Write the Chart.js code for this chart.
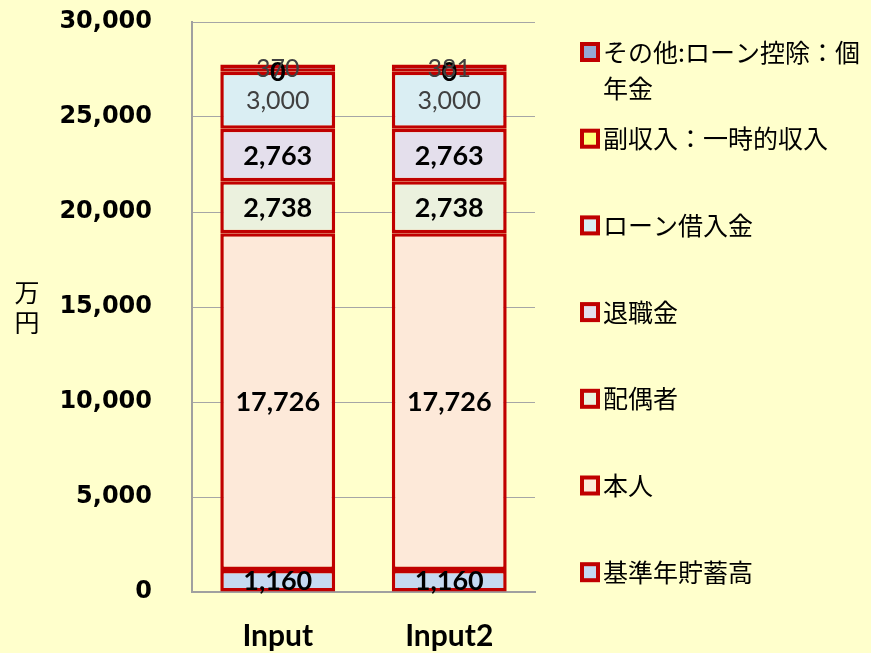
<!DOCTYPE html>
<html>
<head>
<meta charset="utf-8">
<script src="https://cdn.jsdelivr.net/npm/chart.js@4/dist/chart.umd.min.js"></script>
<style>
html,body{margin:0;padding:0;background:#ffffcc;}
#wrap{width:871px;height:653px;position:relative;}
</style>
</head>
<body>
<div id="wrap"><canvas id="c" width="871" height="653"></canvas></div>
<script>
// ---- data ----
const categories = ['Input', 'Input2'];
const seriesNames = ['基準年貯蓄高', '本人', '配偶者', '退職金', 'ローン借入金', '副収入：一時的収入', 'その他:ローン控除：個年金'];
const s基準年貯蓄高 = [1160, 1160];
const s本人 = [17726, 17726];
const s配偶者 = [2738, 2738];
const s退職金 = [2763, 2763];
const sローン借入金 = [3000, 3000];
const s副収入 = [0, 0];
const sその他 = [370, 381];
const yTicks = [0, 5000, 10000, 15000, 20000, 25000, 30000];
const yTitle = ['万', '円'];

const seriesValues = [s基準年貯蓄高, s本人, s配偶者, s退職金, sローン借入金, s副収入, sその他];
const fills = ['#c5d9f1', '#fde9d9', '#ebf1de', '#e4dfec', '#daeef3', '#ffff80', '#95a9d3'];
const labelBold = [true, true, true, true, false, true, false];
const labelColor = ['#000', '#000', '#000', '#000', '#404040', '#000', '#404040'];

const datasets = seriesNames.map((n, i) => ({
  label: n,
  data: seriesValues[i],
  backgroundColor: fills[i],
  borderColor: '#c00000',
  borderWidth: 3.5,
  borderSkipped: false,
  barPercentage: 0.67,
  categoryPercentage: 1.0,
}));

const bgPlugin = {
  id: 'bg',
  beforeDraw(chart) {
    const ctx = chart.ctx;
    ctx.save();
    ctx.fillStyle = '#ffffcc';
    ctx.fillRect(0, 0, chart.width, chart.height);
    ctx.restore();
  }
};

const fmt = v => v.toLocaleString('en-US');

const labelPlugin = {
  id: 'vals',
  afterDatasetsDraw(chart) {
    const ctx = chart.ctx;
    ctx.save();
    ctx.textAlign = 'center';
    ctx.textBaseline = 'middle';
    chart.data.datasets.forEach((ds, i) => {
      const meta = chart.getDatasetMeta(i);
      meta.data.forEach((el, j) => {
        const v = ds.data[j];
        const y = (el.y + el.base) / 2;
        ctx.font = (labelBold[i] ? 'bold 27px Lato' : '25px Lato');
        ctx.fillStyle = labelColor[i];
        ctx.fillText(fmt(v), el.x, y + 1);
      });
    });
    ctx.restore();
  }
};

const legendPlugin = {
  id: 'customLegend',
  afterDraw(chart) {
    const ctx = chart.ctx;
    ctx.save();
    ctx.font = '25px "Noto Sans CJK JP"';
    ctx.textBaseline = 'middle';
    ctx.textAlign = 'left';
    const ds = chart.data.datasets.slice().reverse();
    const boxX = 580, textX = 603, maxW = 868 - textX;
    const y0 = 52, step = 86.7;
    ds.forEach((d, k) => {
      const yc = y0 + k * step;
      ctx.fillStyle = '#c00000';
      ctx.fillRect(boxX, yc - 10, 20, 20);
      ctx.fillStyle = d.backgroundColor;
      ctx.fillRect(boxX + 4, yc - 6, 12, 12);
      const lines = [];
      let cur = '';
      for (const ch of d.label) {
        if (ctx.measureText(cur + ch).width > maxW && cur) { lines.push(cur); cur = ch; }
        else cur += ch;
      }
      lines.push(cur);
      ctx.fillStyle = '#000';
      lines.forEach((ln, li) => ctx.fillText(ln, textX, yc + li * 36));
    });
    ctx.font = '25px "Noto Sans CJK JP"';
    ctx.textAlign = 'center';
    yTitle.forEach((ch, i) => ctx.fillText(ch, 27, 292 + i * 30));
    ctx.restore();
  }
};

new Chart(document.getElementById('c'), {
  type: 'bar',
  data: { labels: categories, datasets },
  options: {
    responsive: false,
    animation: false,
    layout: { padding: { top: 22, right: 336, left: 0, bottom: 0 } },
    plugins: { legend: { display: false }, tooltip: { enabled: false } },
    scales: {
      x: {
        stacked: true,
        grid: { display: false, drawTicks: false },
        border: { display: true, color: '#a0a0a0', width: 2 },
        ticks: { font: { family: 'Lato', weight: 'bold', size: 30 }, color: '#000', padding: 26 },
        afterFit(s) { s.height = 61; s.paddingLeft = 0; s.paddingRight = 0; }
      },
      y: {
        stacked: true,
        min: 0, max: 30000,
        afterBuildTicks(s) { s.ticks = yTicks.map(v => ({ value: v })); },
        grid: { color: '#a6a6a6', lineWidth: 1, drawTicks: false },
        border: { display: true, color: '#a0a0a0', width: 2 },
        ticks: {
          font: { family: 'DejaVu Sans', weight: 'bold', size: 24 },
          color: '#000', padding: 40,
          callback: v => fmt(v)
        },
        afterFit(s) { s.width = 192; s.paddingTop = 0; s.paddingBottom = 0; }
      }
    }
  },
  plugins: [bgPlugin, labelPlugin, legendPlugin]
});
</script>
</body>
</html>
